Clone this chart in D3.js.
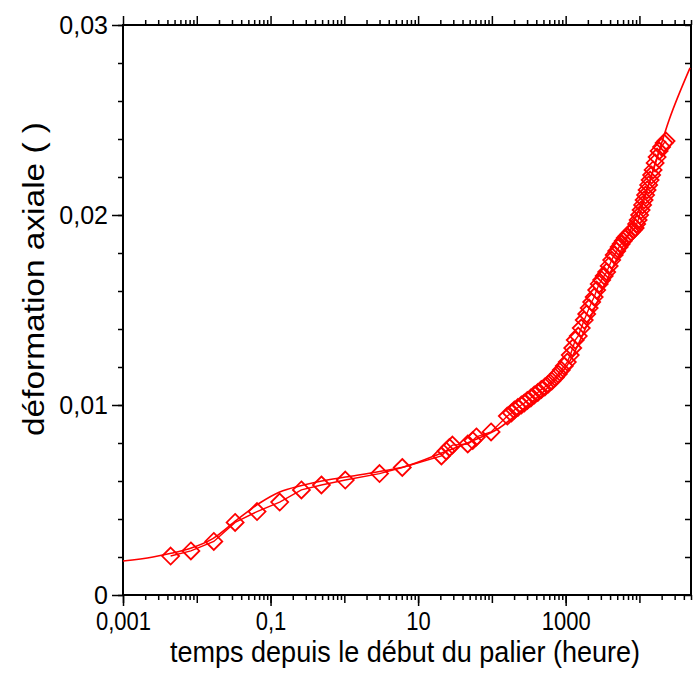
<!DOCTYPE html>
<html>
<head>
<meta charset="utf-8">
<script src="https://cdn.jsdelivr.net/npm/d3@7"></script>
<style>
  body { margin: 0; background: #fff; }
  text { font-family: "Liberation Sans", Arial, sans-serif; fill: #000; }
</style>
</head>
<body>
<svg width="699" height="675"></svg>
<script>
// mesures (temps en heures, deformation axiale)
const timeH = [0.00442, 0.00832, 0.0170, 0.0331, 0.0656, 0.133, 0.262, 0.489, 1.03, 3.0, 6.1,
  20.7, 24.0, 26.6, 29.2, 47.1, 55.0, 61.7, 97.5,
  162, 184, 202, 225, 251, 275, 302, 337, 376, 419, 468, 522, 582, 649, 723, 794, 873, 958, 1052,
  1154, 1248, 1349, 1482, 1627, 1786, 1929, 2084, 2253, 2436, 2634, 2849, 3078, 3327, 3597, 3890,
  4207, 4550, 4920, 5309, 5650, 6025, 6412, 6823, 7261, 7727, 8223, 8750, 9167, 9604, 10060, 10540,
  11040, 11570, 12120, 12700, 13330, 13960, 14630, 15320, 16320, 17370, 18490, 19970, 21590, 22960];
const strain = [0.00205, 0.00232, 0.00282, 0.00382, 0.00439, 0.00489, 0.00553, 0.00579, 0.00605, 0.00639, 0.00671,
  0.00732, 0.00758, 0.00776, 0.00789, 0.00795, 0.00813, 0.00832, 0.00858,
  0.00942, 0.00958, 0.00974, 0.00987, 0.0100, 0.0101, 0.01024, 0.01037, 0.01053, 0.01066, 0.01082, 0.01095, 0.0111, 0.01126, 0.01145, 0.01163, 0.01184, 0.01205, 0.01226,
  0.01263, 0.0130, 0.01342, 0.01363, 0.01405, 0.01447, 0.01479, 0.0151, 0.01542, 0.01568, 0.01605, 0.01637, 0.01658, 0.01679, 0.0170, 0.01732,
  0.01763, 0.01789, 0.0181, 0.01832, 0.01847, 0.01863, 0.01879, 0.01889, 0.019, 0.0191, 0.01921, 0.01932, 0.01953, 0.01974, 0.0200, 0.02026,
  0.02053, 0.02079, 0.02105, 0.02132, 0.02158, 0.02184, 0.0221, 0.02237, 0.02274, 0.02305, 0.02337, 0.02358, 0.02379, 0.02389];

// courbe de lissage
const fitT = [0.001, 0.00255, 0.00433, 0.00807, 0.0165, 0.0349, 0.0714, 0.133, 0.264, 0.493, 1.04, 3.0, 6.34,
  22.7, 58.0, 126, 236, 600, 1119, 2084, 3890, 7261, 13520, 25230, 48500];
const fitV = [0.00179, 0.0020, 0.00218, 0.00245, 0.00297, 0.00395, 0.00484, 0.00542, 0.00576, 0.0060, 0.00621, 0.0065, 0.00674,
  0.00753, 0.00816, 0.00879, 0.00963, 0.0110, 0.01226, 0.01447, 0.01684, 0.01905, 0.02168, 0.0250, 0.02774];

const xLabels = [0.001, 0.1, 10, 1000];
const yLabels = [0, 0.01, 0.02, 0.03];

const svg = d3.select("svg");
const mLeft = 123, mRight = 691, mTop = 25, mBottom = 595;
const red = "#ff0000";

const x = d3.scaleLog().domain([0.001, 50000]).range([mLeft, mRight]);
const y = d3.scaleLinear().domain([0, 0.03]).range([mBottom, mTop]);

const fmt = d => String(d).replace(".", ",");

// ticks log
const decades = d3.range(-3, 5).map(e => Math.pow(10, e));
const minors = [];
decades.forEach(d => { for (let k = 2; k <= 9; k++) { if (d * k <= 50000) minors.push(d * k); } });
const yMinors = d3.range(0, 0.0301, 0.002);

function tickGroup(axis, tx, ty) {
  const g = svg.append("g").attr("transform", "translate(" + tx + "," + ty + ")").call(axis);
  g.select(".domain").remove();
  g.selectAll("line").attr("stroke", "#000").attr("stroke-width", 1.5);
  return g;
}

// bas
tickGroup(d3.axisBottom(x).tickValues(minors).tickSize(5).tickFormat(""), 0, mBottom);
tickGroup(d3.axisBottom(x).tickValues(decades).tickSize(8).tickFormat(""), 0, mBottom);
const xl = tickGroup(d3.axisBottom(x).tickValues(xLabels).tickSize(11).tickPadding(6).tickFormat(fmt), 0, mBottom);
xl.selectAll("text").attr("font-size", 25).attr("dy", "0.71em")
  .each(function () { const w = this.getComputedTextLength(); d3.select(this).attr("textLength", w * 0.88).attr("lengthAdjust", "spacingAndGlyphs"); });
// haut
tickGroup(d3.axisTop(x).tickValues(minors).tickSize(5).tickFormat(""), 0, mTop);
tickGroup(d3.axisTop(x).tickValues(decades).tickSize(9).tickFormat(""), 0, mTop);
// gauche
tickGroup(d3.axisLeft(y).tickValues(yMinors).tickSize(5).tickFormat(""), mLeft, 0);
const yl = tickGroup(d3.axisLeft(y).tickValues(yLabels).tickSize(11).tickPadding(4).tickFormat(fmt), mLeft, 0);
yl.selectAll("text").attr("font-size", 25);
// droite
tickGroup(d3.axisLeft(y).tickValues(yMinors).tickSize(6).tickFormat(""), mRight, 0);

// cadre
svg.append("rect")
  .attr("x", mLeft).attr("y", mTop)
  .attr("width", mRight - mLeft).attr("height", mBottom - mTop)
  .attr("fill", "none").attr("stroke", "#000").attr("stroke-width", 2);

const plot = svg.append("g");

// lissage
const fitPts = fitT.map((t, i) => [t, fitV[i]]);
plot.append("path")
  .datum(fitPts)
  .attr("fill", "none").attr("stroke", red).attr("stroke-width", 1.6)
  .attr("d", d3.line().x(d => x(d[0])).y(d => y(d[1])).curve(d3.curveMonotoneX));

// mesures reliees
const pts = timeH.map((t, i) => [t, strain[i]]);
plot.append("path")
  .datum(pts)
  .attr("fill", "none").attr("stroke", red).attr("stroke-width", 1.4)
  .attr("d", d3.line().x(d => x(d[0])).y(d => y(d[1])));

// losanges
const s = 8.5;
plot.selectAll(".pt")
  .data(pts)
  .enter().append("path")
  .attr("class", "pt")
  .attr("fill", "none").attr("stroke", red).attr("stroke-width", 1.8)
  .attr("d", d => {
    const cx = x(d[0]), cy = y(d[1]);
    return "M" + cx + "," + (cy - s) + "L" + (cx + s) + "," + cy + "L" + cx + "," + (cy + s) + "L" + (cx - s) + "," + cy + "Z";
  });

// titres
svg.append("text")
  .attr("x", 405).attr("y", 662)
  .attr("text-anchor", "middle").attr("font-size", 30)
  .attr("textLength", 470).attr("lengthAdjust", "spacingAndGlyphs")
  .text("temps depuis le début du palier (heure)");
svg.append("text")
  .attr("transform", "translate(44,279) rotate(-90)")
  .attr("text-anchor", "middle").attr("font-size", 30)
  .attr("textLength", 314).attr("lengthAdjust", "spacingAndGlyphs")
  .text("déformation axiale ( )");
</script>
</body>
</html>
